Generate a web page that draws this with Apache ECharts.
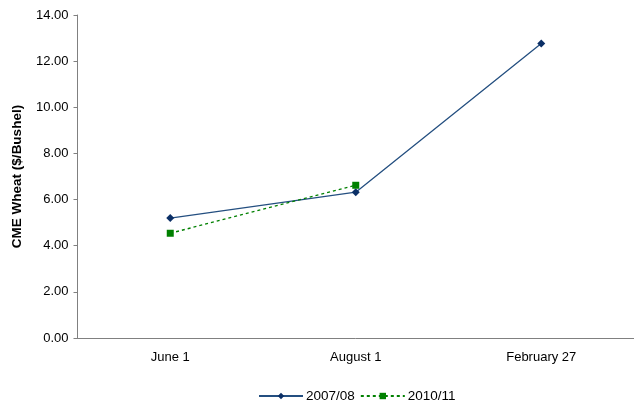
<!DOCTYPE html>
<html>
<head>
<meta charset="utf-8">
<script src="https://cdn.jsdelivr.net/npm/echarts@6/dist/echarts.min.js"></script>
<style>
html,body{margin:0;padding:0;background:#fff;}
#chart{width:634px;height:403px;}
</style>
</head>
<body>
<div id="chart"></div>
<script>
// Wheat futures price at three dates, two crop years
const categories = ['June 1', 'August 1', 'February 27'];
const season0708 = [5.20, 6.32, 12.76];
const season1011 = [4.54, 6.62, null];
const yTicks = { min: 0, max: 14, interval: 2 };

const chart = echarts.init(document.getElementById('chart'), null, { renderer: 'canvas' });
const font = 'Arial, "Liberation Sans", sans-serif';

chart.setOption({
  animation: false,
  backgroundColor: '#ffffff',
  grid: { left: 77.5, width: 562, top: 15, bottom: 65, containLabel: false },
  legend: {
    top: 384,
    left: 253,
    itemWidth: 44,
    itemHeight: 8,
    itemGap: 5,
    textStyle: { fontFamily: font, fontSize: 13.5, color: '#000', padding: [0, 0, 0, -2] },
    data: ['2007/08', '2010/11']
  },
  xAxis: {
    type: 'category',
    data: categories,
    boundaryGap: true,
    axisLine: { lineStyle: { color: '#808080', width: 1 } },
    axisTick: { show: false },
    axisLabel: { fontFamily: font, fontSize: 13, color: '#000', margin: 13 }
  },
  yAxis: {
    type: 'value',
    min: yTicks.min,
    max: yTicks.max,
    interval: yTicks.interval,
    name: 'CME Wheat ($/Bushel)',
    nameLocation: 'middle',
    nameGap: 53,
    nameTextStyle: { fontFamily: font, fontSize: 13.5, fontWeight: 'bold', color: '#000' },
    axisLine: { show: true, lineStyle: { color: '#808080', width: 1 } },
    axisTick: { show: true, length: 4, lineStyle: { color: '#808080' } },
    splitLine: { show: false },
    axisLabel: {
      fontFamily: font, fontSize: 13, color: '#000', margin: 9,
      formatter: v => v.toFixed(2)
    }
  },
  series: [
    {
      name: '2007/08',
      type: 'line',
      data: season0708,
      symbol: 'diamond',
      symbolSize: 8,
      lineStyle: { color: '#244f80', width: 1.3 },
      itemStyle: { color: '#0b2f66' }
    },
    {
      name: '2010/11',
      type: 'line',
      data: season1011,
      symbol: 'rect',
      symbolSize: 7,
      lineStyle: { color: '#008000', width: 1.3, type: [3, 3] },
      itemStyle: { color: '#008000' }
    }
  ]
});
</script>
</body>
</html>
